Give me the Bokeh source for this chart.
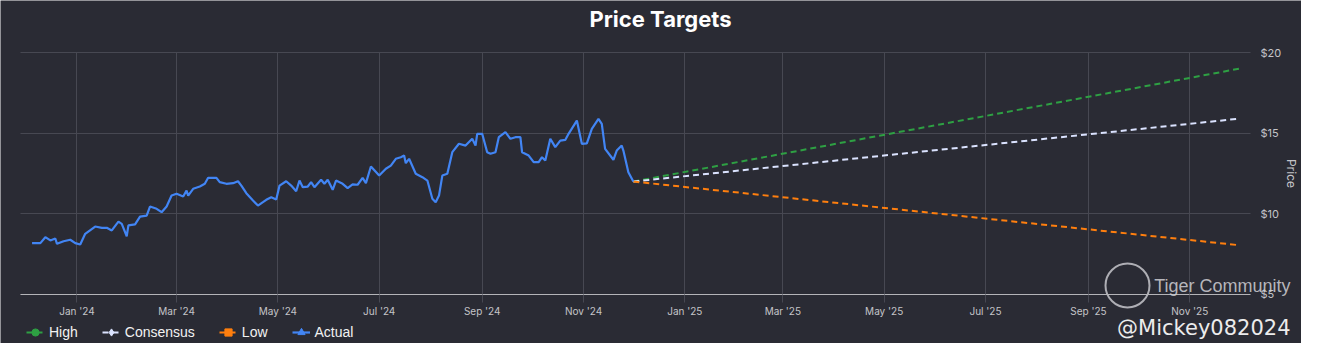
import pandas as pd
from bokeh.plotting import figure
from bokeh.models import (Range1d, PrintfTickFormatter, DatetimeTickFormatter, MonthsTicker,
                          Legend, LegendItem, Label, ColumnDataSource)
from bokeh.embed import file_html
from bokeh.resources import INLINE

# ---------------- data ----------------
actual_dates = [
    "2023-12-05", "2023-12-10", "2023-12-13", "2023-12-16", "2023-12-19", "2023-12-20", "2023-12-24",
    "2023-12-28", "2023-12-31", "2024-01-03", "2024-01-06", "2024-01-12", "2024-01-16", "2024-01-19",
    "2024-01-22", "2024-01-26", "2024-01-28", "2024-01-31", "2024-02-01", "2024-02-05", "2024-02-08",
    "2024-02-12", "2024-02-14", "2024-02-18", "2024-02-21", "2024-02-24", "2024-02-27", "2024-03-01",
    "2024-03-05", "2024-03-07", "2024-03-08", "2024-03-11", "2024-03-15", "2024-03-18", "2024-03-20",
    "2024-03-25", "2024-03-27", "2024-03-31", "2024-04-04", "2024-04-07", "2024-04-09", "2024-04-12",
    "2024-04-16", "2024-04-19", "2024-04-22", "2024-04-24", "2024-04-27", "2024-04-30", "2024-05-02",
    "2024-05-06", "2024-05-09", "2024-05-12", "2024-05-14", "2024-05-16", "2024-05-19", "2024-05-21",
    "2024-05-23", "2024-05-27", "2024-05-29", "2024-05-31", "2024-06-03", "2024-06-05", "2024-06-09",
    "2024-06-12", "2024-06-15", "2024-06-18", "2024-06-21", "2024-06-23", "2024-06-26", "2024-07-01",
    "2024-07-05", "2024-07-08", "2024-07-11", "2024-07-14", "2024-07-16", "2024-07-17", "2024-07-19",
    "2024-07-23", "2024-07-27", "2024-07-30", "2024-08-02", "2024-08-04", "2024-08-06", "2024-08-08",
    "2024-08-11", "2024-08-14", "2024-08-18", "2024-08-22", "2024-08-26", "2024-08-28", "2024-08-29",
    "2024-09-01", "2024-09-04", "2024-09-06", "2024-09-09", "2024-09-11", "2024-09-15", "2024-09-18",
    "2024-09-21", "2024-09-24", "2024-09-25", "2024-09-29", "2024-10-02", "2024-10-05", "2024-10-07",
    "2024-10-09", "2024-10-12", "2024-10-15", "2024-10-18", "2024-10-21", "2024-10-23", "2024-10-28",
    "2024-10-31", "2024-11-03", "2024-11-06", "2024-11-10", "2024-11-12", "2024-11-14", "2024-11-19",
    "2024-11-21", "2024-11-24", "2024-11-25", "2024-11-28", "2024-12-01",
]
actual_prices = [
    8.18, 8.18, 8.55, 8.35, 8.47, 8.14, 8.30,
    8.39, 8.18, 8.10, 8.76, 9.21, 9.13, 9.13,
    8.97, 9.52, 9.38, 8.61, 9.28, 9.34, 9.83,
    9.89, 10.45, 10.31, 10.10, 10.45, 11.13, 11.24,
    11.07, 11.44, 11.13, 11.55, 11.69, 11.86, 12.23,
    12.23, 11.96, 11.86, 11.90, 12.02, 11.75, 11.28,
    10.82, 10.51, 10.72, 10.87, 11.03, 10.89, 11.75,
    12.02, 11.75, 11.40, 12.06, 11.65, 11.69, 11.96,
    11.65, 12.11, 11.86, 12.11, 11.49, 12.06, 11.86,
    11.59, 11.82, 11.80, 12.23, 11.90, 12.93, 12.37,
    12.79, 12.99, 13.41, 13.51, 13.61, 13.14, 13.41,
    12.48, 12.27, 12.06, 10.93, 10.72, 11.13, 12.37,
    12.48, 13.82, 14.34, 14.23, 14.65, 14.23, 14.96,
    14.96, 13.82, 13.72, 13.82, 14.75, 15.06, 14.65,
    14.75, 14.75, 13.82, 13.61, 13.20, 13.20, 13.51,
    13.30, 14.65, 14.13, 14.54, 14.58, 14.96, 15.78,
    14.34, 14.37, 15.27, 15.89, 15.58, 14.03, 13.35,
    13.92, 14.23, 13.92, 12.58, 12.00,
]
target_dates = ["2024-12-01", "2025-12-01"]
high_targets = [12.0, 19.0]
consensus_targets = [12.0, 15.9]
low_targets = [12.0, 8.05]
y_ticks = [5, 10, 15, 20]
tick_months = [0, 2, 4, 6, 8, 10]
series_labels = ["High", "Consensus", "Low", "Actual"]
title_text = "Price Targets"
y_label = "Price"
watermark_texts = ["Tiger Community", "@Mickey082024"]

# ---------------- layout / styles ----------------
W, H = 1301, 343
PX_PER_DAY = 1.661
PX_PER_USD = 16.13
AREA_LEFT, AREA_RIGHT, AREA_TOP, AREA_BOTTOM = 20, 1250, 52, 294   # canvas pixels

BG = "#2a2b34"
GRID = "#474852"
GREEN = "#2ea043"
CONS = "#dbe3ff"
ORANGE = "#ff7f0e"
BLUE = "#4285f4"
TXT = "#c4c4c8"
WM = "#d0d0d4"

act = ColumnDataSource(dict(date=pd.to_datetime(actual_dates), price=actual_prices))
tgt = ColumnDataSource(dict(date=pd.to_datetime(target_dates), high=high_targets,
                            cons=consensus_targets, low=low_targets))

y_lo, y_hi = min(y_ticks), max(y_ticks)
x_start = pd.to_datetime(actual_dates[0]) - pd.Timedelta(days=19)
x_end = x_start + pd.Timedelta(days=W / PX_PER_DAY)
def px_to_date(px):
    return x_start + pd.Timedelta(days=px / PX_PER_DAY)
def px_to_usd(py):
    return y_hi - (py - AREA_TOP) / PX_PER_USD
def ms(ts):
    return ts.value / 1e6
y_bottom = px_to_usd(H)
y_top = px_to_usd(0)
area_x0, area_x1 = px_to_date(AREA_LEFT), px_to_date(AREA_RIGHT)

p = figure(width=W, height=H, x_axis_type="datetime", output_backend="svg",
           toolbar_location=None, x_range=Range1d(x_start, x_end), y_range=Range1d(y_bottom, y_top),
           y_axis_location="right", min_border=0, background_fill_color=BG,
           border_fill_color=BG, outline_line_color=None)

# grids, limited to the plotting area
xg, yg = p.xgrid[0], p.ygrid[0]
xg.grid_line_color = GRID
yg.grid_line_color = GRID
if "cross_bounds" in xg.properties():
    xg.cross_bounds = (y_lo, y_hi)
    yg.cross_bounds = (ms(area_x0), ms(area_x1))

# x axis drawn at the $5 level
xa = p.xaxis[0]
xa.fixed_location = y_lo
xa.bounds = (area_x0, area_x1)
xa.ticker = MonthsTicker(months=tick_months)
xa.formatter = DatetimeTickFormatter(months="%b '%y", days="%b '%y", years="%b '%y")
xa.axis_line_color = "#b4b4b8"
xa.major_tick_line_color = GRID
xa.major_tick_out = 8
xa.major_tick_in = 0
xa.minor_tick_line_color = None
xa.major_label_standoff = 3
xa.major_label_text_color = TXT
xa.major_label_text_font = "Inter"
xa.major_label_text_font_size = "10px"

# y axis at the right edge of the plotting area
ya = p.yaxis[0]
ya.fixed_location = ms(area_x1)
ya.bounds = (y_lo, y_hi)
ya.ticker = y_ticks
ya.formatter = PrintfTickFormatter(format="$%d")
ya.axis_line_color = None
ya.major_tick_line_color = None
ya.major_tick_out = 0
ya.major_tick_in = 0
ya.minor_tick_line_color = None
ya.minor_tick_out = 0
ya.major_label_standoff = 10
ya.major_label_text_color = TXT
ya.major_label_text_font = "Inter"
ya.major_label_text_font_size = "11px"
ya.axis_label = y_label
ya.axis_label_text_color = TXT
ya.axis_label_text_font = "Inter"
ya.axis_label_text_font_style = "normal"
ya.axis_label_text_font_size = "12px"
ya.axis_label_standoff = 0

# lines
r_high = p.line("date", "high", source=tgt, line_color=GREEN, line_width=2, line_dash="6 4")
r_cons = p.line("date", "cons", source=tgt, line_color=CONS, line_width=2, line_dash="6 4")
r_low = p.line("date", "low", source=tgt, line_color=ORANGE, line_width=2, line_dash="6 4")
r_act = p.line("date", "price", source=act, line_color=BLUE, line_width=2.2)

# zero-size markers so the legend shows a marker per series
m_high = p.scatter("date", "high", source=tgt, marker="circle", size=0, color=GREEN)
m_cons = p.scatter("date", "cons", source=tgt, marker="diamond", size=0, color=CONS)
m_low = p.scatter("date", "low", source=tgt, marker="square", size=0, color=ORANGE)
m_act = p.scatter("date", "price", source=act, marker="triangle", size=0, color=BLUE)

legend = Legend(items=[
    LegendItem(label=series_labels[0], renderers=[r_high, m_high]),
    LegendItem(label=series_labels[1], renderers=[r_cons, m_cons]),
    LegendItem(label=series_labels[2], renderers=[r_low, m_low]),
    LegendItem(label=series_labels[3], renderers=[r_act, m_act]),
], location=(26, 1), orientation="horizontal", glyph_width=18, glyph_height=20,
    label_standoff=5, spacing=24, padding=0, margin=0, background_fill_alpha=0,
    border_line_alpha=0, label_text_color="#f2f2f2", label_text_font="Liberation Sans",
    label_text_font_size="14px")
p.add_layout(legend)

# title
p.add_layout(Label(x=660, y=H - 18, x_units="screen", y_units="screen", text=title_text,
                   text_align="center", text_baseline="middle", text_color="#ffffff",
                   text_font="Inter", text_font_style="bold", text_font_size="22px"))

# watermark: logo ring + texts
p.scatter(x=[px_to_date(1127)], y=[px_to_usd(285)], marker="circle", size=44,
          fill_alpha=0, line_color=WM, line_alpha=0.8, line_width=2)
p.add_layout(Label(x=1290, y=H - 285, x_units="screen", y_units="screen", text=watermark_texts[0],
                   text_align="right", text_baseline="middle", text_color=WM,
                   text_alpha=0.85, text_font="Liberation Sans", text_font_size="18px"))
p.add_layout(Label(x=1290, y=H - 327, x_units="screen", y_units="screen", text=watermark_texts[1],
                   text_align="right", text_baseline="middle", text_color="#ececec",
                   text_font="DejaVu Sans", text_font_size="21px"))

open("out.html", "w").write(file_html(p, INLINE))
